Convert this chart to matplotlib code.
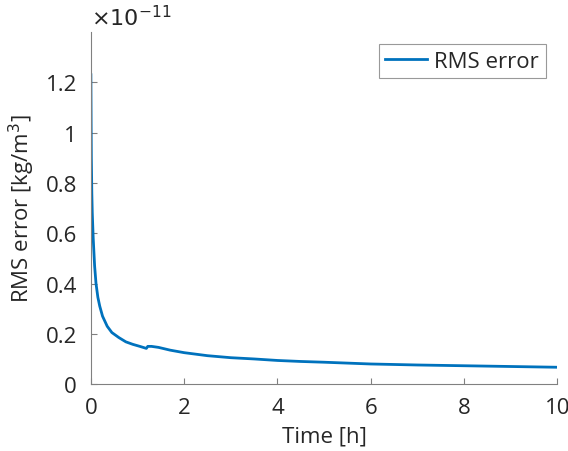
import numpy as np
import matplotlib
matplotlib.use('Agg')
import matplotlib.pyplot as plt
from matplotlib.ticker import FuncFormatter

# RMS error over time, values in units of 1e-11 kg/m^3
time_h = [0, 0.005, 0.01, 0.02, 0.03, 0.05, 0.08, 0.11, 0.15, 0.19, 0.25, 0.35,
          0.45, 0.6, 0.75, 0.9, 1.05, 1.19, 1.22, 1.3, 1.45, 1.7, 2.0, 2.5,
          3.0, 3.5, 4.0, 4.5, 5.0, 6.0, 7.0, 8.0, 9.0, 10.0]
rms_e11 = [1.23, 1.05, 0.90, 0.76, 0.68, 0.58, 0.47, 0.40, 0.345, 0.31, 0.27, 0.23,
           0.205, 0.185, 0.168, 0.158, 0.150, 0.142, 0.150, 0.150, 0.146, 0.135, 0.125, 0.113,
           0.105, 0.100, 0.094, 0.090, 0.087, 0.080, 0.076, 0.073, 0.070, 0.067]
x_ticks = [0, 2, 4, 6, 8, 10]
y_ticks = [0, 0.2, 0.4, 0.6, 0.8, 1, 1.2]

text_col = '#262626'
axis_col = '#808080'
plt.rcParams['font.family'] = ['Open Sans', 'DejaVu Sans']
plt.rcParams['font.size'] = 16

fig = plt.figure(figsize=(5.68, 4.52), dpi=100)
ax = fig.add_axes([0.160, 0.148, 0.821, 0.779])
ax.plot(time_h, rms_e11, color='#0072BD', lw=2, label='RMS error')

ax.set_xlim(0, 10)
ax.set_ylim(0, 1.4)
ax.set_xticks(x_ticks)
ax.set_yticks(y_ticks)
ax.yaxis.set_major_formatter(FuncFormatter(lambda v, p: '%g' % v))
ax.tick_params(direction='in', length=4, colors=axis_col, labelcolor=text_col,
               labelsize=16)
ax.tick_params(axis='x', pad=9)
ax.tick_params(axis='y', pad=10)
for side in ['top', 'right']:
    ax.spines[side].set_visible(False)
for side in ['left', 'bottom']:
    ax.spines[side].set_color(axis_col)

ax.text(0, 1.005, r'$\times10^{-11}$', transform=ax.transAxes, ha='left', va='bottom',
        fontsize=16, color=text_col)
ax.set_xlabel('Time [h]', fontsize=16, color=text_col, labelpad=6)
ax.set_ylabel('RMS error [kg/m$^3$]', fontsize=16, color=text_col, labelpad=6)

leg = ax.legend(loc='upper right', fontsize=16, fancybox=False, handlelength=1.9,
                handletextpad=0.3, bbox_to_anchor=(0.975, 0.966), borderaxespad=0,
                borderpad=0.3)
leg.get_frame().set_edgecolor(axis_col)
leg.get_frame().set_linewidth(0.8)
for t in leg.get_texts():
    t.set_color(text_col)

fig.savefig('out.png', dpi=100)
